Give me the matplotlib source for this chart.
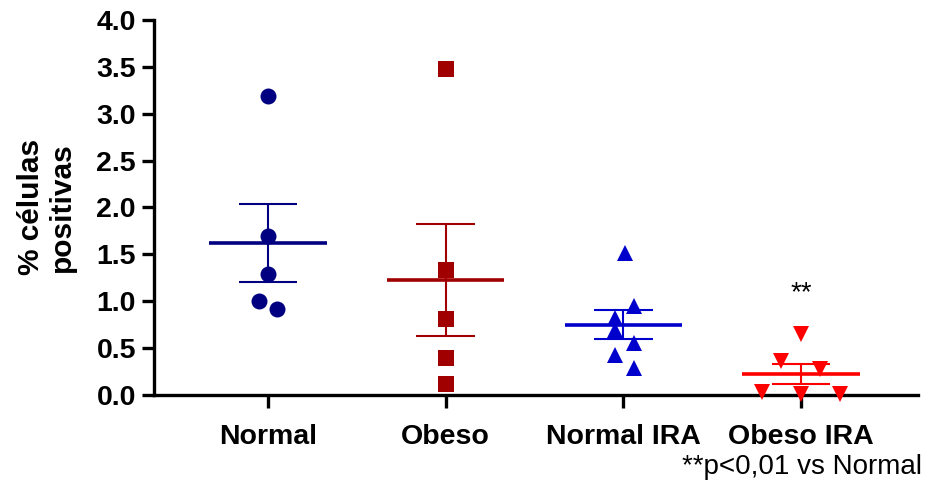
import numpy as np
import matplotlib.pyplot as plt

plt.rcParams['font.family'] = ['Liberation Sans', 'DejaVu Sans']

groups = ["Normal", "Obeso", "Normal IRA", "Obeso IRA"]

normal = [3.19, 1.69, 1.29, 1.00, 0.92]
obeso = [3.48, 1.33, 0.81, 0.39, 0.12]
normal_ira = [1.51, 0.95, 0.82, 0.69, 0.55, 0.43, 0.29]
obeso_ira = [0.65, 0.36, 0.27, 0.03, 0.01, 0.01]

# horizontal scatter of the points inside each column
jitter = [
    [0, 0, 0, -0.053, 0.053],
    [0, 0, 0, 0, 0],
    [0.01, 0.06, -0.045, -0.045, 0.06, -0.045, 0.06],
    [0, -0.11, 0.11, -0.22, 0, 0.22],
]

colors = ["#000080", "#A00000", "#0000CC", "#FF0000"]
markers = ["o", "s", "^", "v"]

fig = plt.figure(figsize=(9.28, 4.88), dpi=100)
ax = fig.add_axes([0.166, 0.191, 0.823, 0.768])

data = [normal, obeso, normal_ira, obeso_ira]
for i, vals in enumerate(data):
    vals = np.array(vals)
    xs = i + np.array(jitter[i])
    ax.plot(xs, vals, linestyle="none", marker=markers[i], color=colors[i],
            markersize=11.5, markeredgewidth=0, clip_on=False, zorder=3)
    m = vals.mean()
    sem = vals.std(ddof=1) / np.sqrt(len(vals))
    ax.hlines(m, i - 0.33, i + 0.33, color=colors[i], linewidth=2.6, zorder=4)
    ax.vlines(i, m - sem, m + sem, color=colors[i], linewidth=1.5, zorder=4)
    ax.hlines([m - sem, m + sem], i - 0.165, i + 0.165, color=colors[i],
              linewidth=1.5, zorder=4)

ax.text(3, 1.08, "**", ha="center", va="center", fontsize=20)

ax.set_xlim(-0.642, 3.658)
ax.set_ylim(0, 4.0)
ax.set_yticks(np.arange(0, 4.01, 0.5))
ax.set_yticklabels([f"{v:.1f}" for v in np.arange(0, 4.01, 0.5)])
ax.set_xticks(range(4))
ax.set_xticklabels(groups)

for side in ["top", "right"]:
    ax.spines[side].set_visible(False)
for side in ["left", "bottom"]:
    ax.spines[side].set_linewidth(2.4)

ax.tick_params(axis="both", width=2.4, length=9, labelsize=20.5)
ax.tick_params(axis="y", pad=4)
ax.tick_params(axis="x", pad=12)
for lbl in ax.get_xticklabels() + ax.get_yticklabels():
    lbl.set_fontweight("bold")

fig.text(0.05, 0.575, "% células\npositivas", rotation=90, ha="center",
         va="center", multialignment="center", fontsize=21.5,
         fontweight="bold", linespacing=1.15)

fig.text(0.994, 0.043, "**p<0,01 vs Normal", ha="right", va="center",
         fontsize=20)

fig.savefig("out.png", dpi=100)
